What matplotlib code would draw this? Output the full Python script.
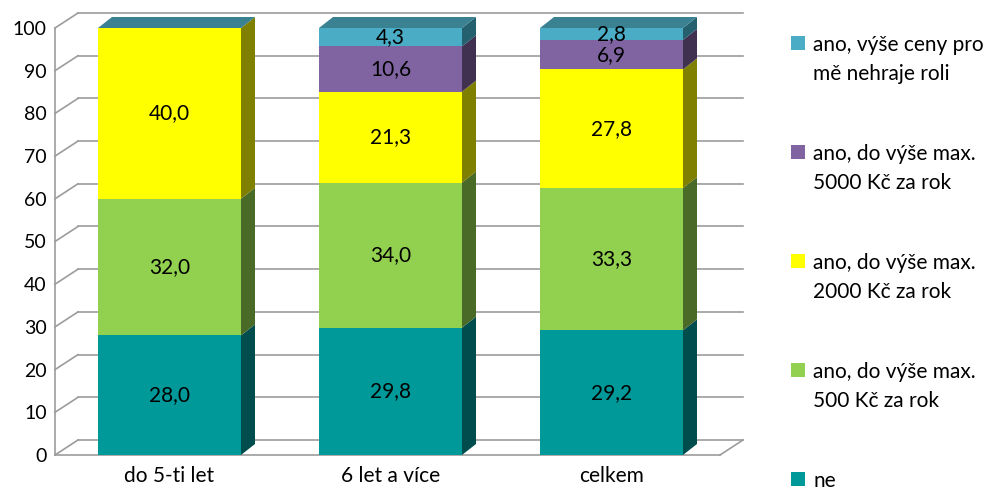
import matplotlib
matplotlib.use("Agg")
import matplotlib.pyplot as plt
from matplotlib.patches import Polygon, Rectangle

plt.rcParams['font.family'] = ['Lato', 'DejaVu Sans']

# data (percent), stacked bottom -> top
categories = ["do 5-ti let", "6 let a více", "celkem"]
ne = [28.0, 29.8, 29.2]
do_500 = [32.0, 34.0, 33.3]
do_2000 = [40.0, 21.3, 27.8]
do_5000 = [0.0, 10.6, 6.9]
bez_limitu = [0.0, 4.3, 2.8]
series = [ne, do_500, do_2000, do_5000, bez_limitu]
series_names = ["ne",
                "ano, do výše max.\n500 Kč za rok",
                "ano, do výše max.\n2000 Kč za rok",
                "ano, do výše max.\n5000 Kč za rok",
                "ano, výše ceny pro\nmě nehraje roli"]
y_ticks = [0, 10, 20, 30, 40, 50, 60, 70, 80, 90, 100]

front_colors = ['#009999', '#92D050', '#FFFF00', '#8064A2', '#4BACC6']
side_colors = ['#004D4D', '#4A6A28', '#808000', '#403151', '#25606E']
top_color = '#3A8192'
grid_color = '#9C9C9C'

W, H = 1005, 488
fig = plt.figure(figsize=(W / 100, H / 100), dpi=100)
# axes = front plane of the pseudo 3d chart
ax = fig.add_axes([55 / W, 1 - 455 / H, (720 - 55) / W, (455 - 28) / H])

px_x = 221.0          # pixels per category
px_y = 4.27           # pixels per percent
xmin = (55 - 169.5) / px_x
xmax = (720 - 169.5) / px_x
wall_dx, wall_dy = 23 / px_x, 15 / px_y
bar_dx, bar_dy = 14 / px_x, 11 / px_y
bar_w = 143 / px_x

ax.set_xlim(xmin, xmax)
ax.set_ylim(0, 100)

# walls: back gridlines + side diagonals
for v in y_ticks:
    ax.plot([xmin + wall_dx, xmax + wall_dx], [v + wall_dy] * 2, color=grid_color,
            lw=1.2, clip_on=False, zorder=1)
    ax.plot([xmin, xmin + wall_dx], [v, v + wall_dy], color=grid_color,
            lw=1.2, clip_on=False, zorder=1)
ax.plot([xmax, xmax + wall_dx], [0, wall_dy], color=grid_color, lw=1.2, clip_on=False, zorder=1)

xs = list(range(len(categories)))
bottoms = [0.0] * len(categories)
for k, vals in enumerate(series):
    ax.bar(xs, vals, width=bar_w, bottom=bottoms, color=front_colors[k],
           zorder=3, clip_on=False)
    for i, v in enumerate(vals):
        if v <= 0:
            continue
        x1 = i + bar_w / 2
        b, t = bottoms[i], bottoms[i] + v
        ax.add_patch(Polygon([(x1, b), (x1 + bar_dx, b + bar_dy),
                              (x1 + bar_dx, t + bar_dy), (x1, t)],
                             closed=True, facecolor=side_colors[k], edgecolor='none',
                             zorder=3, clip_on=False))
        ax.text(i, b + v / 2, ("%.1f" % v).replace('.', ','), ha='center', va='center',
                fontsize=15, zorder=5, clip_on=False)
    bottoms = [b + v for b, v in zip(bottoms, vals)]

# top faces (Excel paints them with the last series colour)
for i, t in enumerate(bottoms):
    x0, x1 = i - bar_w / 2, i + bar_w / 2
    ax.add_patch(Polygon([(x0, t), (x1, t), (x1 + bar_dx, t + bar_dy), (x0 + bar_dx, t + bar_dy)],
                         closed=True, facecolor=top_color, edgecolor='none',
                         zorder=3, clip_on=False))

for s in ['top', 'right']:
    ax.spines[s].set_visible(False)
for s in ['left', 'bottom']:
    ax.spines[s].set_color(grid_color)
    ax.spines[s].set_linewidth(1.2)
ax.set_yticks(y_ticks)
ax.set_xticks(xs)
ax.set_xticklabels(categories)
ax.tick_params(axis='y', length=0, pad=6, labelsize=14)
ax.tick_params(axis='x', length=0, pad=8, labelsize=15)
ax.set_facecolor('none')

# legend, top item first
for j, k in enumerate(reversed(range(len(series)))):
    base = 51 + 109 * j
    fig.patches.append(Rectangle((791 / W, 1 - (base - 1) / H), 14 / W, 14 / H,
                                 transform=fig.transFigure, facecolor=front_colors[k],
                                 edgecolor='none'))
    for n, line in enumerate(series_names[k].split('\n')):
        fig.text(813 / W, 1 - (base + 29 * n) / H, line, fontsize=15, va='baseline', ha='left')

fig.savefig("out.png", dpi=100)
